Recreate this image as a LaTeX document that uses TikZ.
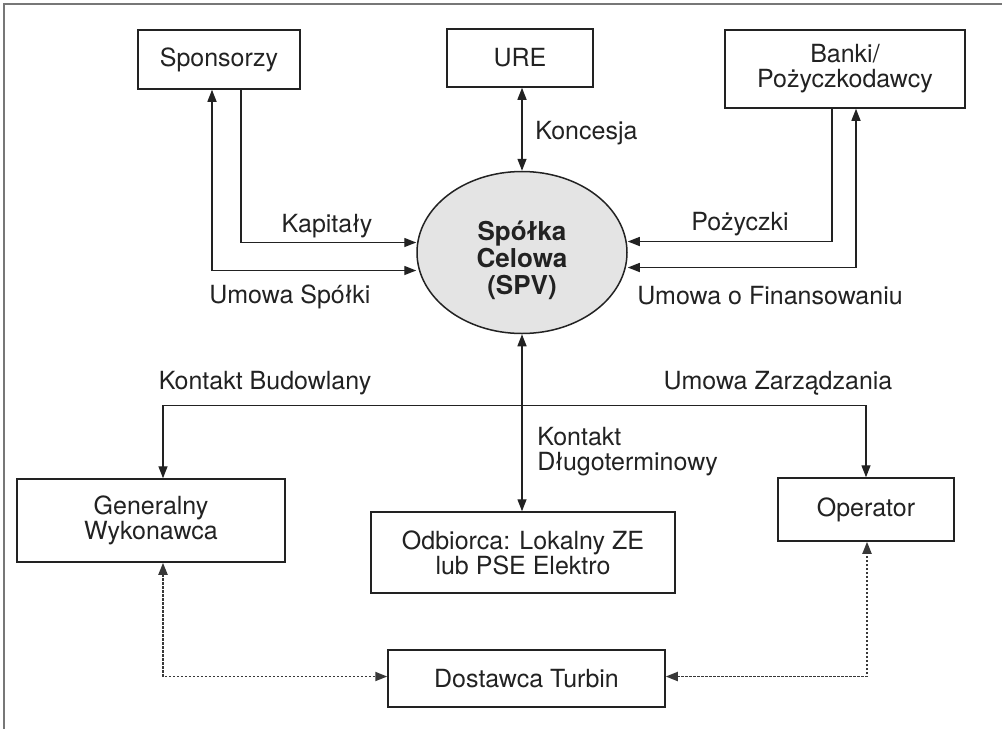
\documentclass[tikz,border=0pt]{standalone}
\usepackage{fontspec}
\setmainfont{TeX Gyre Heros}
\usetikzlibrary{arrows.meta,calc,shapes.geometric}

\definecolor{ink}{HTML}{222222}
\definecolor{framecol}{HTML}{777777}
\definecolor{spvfill}{HTML}{E4E4E4}

\begin{document}
\begin{tikzpicture}[x=0.5pt,y=-0.5pt,
  font=\fontsize{12.5}{12.6}\selectfont,
  >={Triangle[length=6pt,width=4.5pt]},
  box/.style={draw=ink, line width=0.75pt, fill=white, align=center, inner sep=0pt, text=ink},
  conn/.style={draw=ink, line width=0.7pt},
  dotconn/.style={draw=ink!90, line width=0.9pt, dash pattern=on 1.1pt off 0.9pt},
  lbl/.style={text=ink, inner sep=0pt}
]
\useasboundingbox (0,0) rectangle (1002,729);

% outer frame (top and left edges)
\draw[framecol, line width=1pt] (1002,4) -- (4,4) -- (4,729);

% parties
\node[box, minimum width=81pt, minimum height=29.5pt] (spons) at (219,59.5) {Sponsorzy};
\node[box, minimum width=73pt, minimum height=29pt] (ure) at (520,58) {URE};
\node[box, minimum width=120pt, minimum height=39pt] (banki) at (845,69) {Banki/\\Pożyczkodawcy};
\node[ellipse, draw=ink, line width=0.75pt, fill=spvfill, minimum width=105pt, minimum height=81pt, inner sep=0pt] (spv) at (522,252.5) {};
\node[lbl, align=center, font=\fontsize{13}{13.6}\selectfont\bfseries] (spvtxt) at ($(spv)+(0,8)$) {Spółka\\Celowa\\(SPV)};
\node[box, minimum width=134pt, minimum height=41.5pt] (gen) at (151,520.5) {Generalny\\Wykonawca};
\node[box, minimum width=152pt, minimum height=40.5pt] (odb) at (523,552.5) {Odbiorca: Lokalny ZE\\lub PSE Elektro};
\node[box, minimum width=88pt, minimum height=31.5pt] (oper) at (866,509.5) {Operator};
\node[box, minimum width=138.5pt, minimum height=28.5pt] (dost) at (526.5,678.5) {Dostawca Turbin};

% sponsors
\draw[conn,->] ($(spons.south)+(22,0)$) |- ($(spv.west)+(0,-10)$);
\draw[conn,<->] ($(spons.south)+(-7,0)$) |- ($(spv.west)+(0,18)$);
% regulator
\draw[conn,<->] (ure.south -| spv.north) -- (spv.north);
% lenders
\draw[conn,->] ($(banki.south)+(-13,0)$) |- ($(spv.east)+(0,-11)$);
\draw[conn,<->] ($(banki.south)+(11,0)$) |- ($(spv.east)+(0,15)$);
% offtaker
\draw[conn,<->] (spv.south) -- (odb.north -| spv.south);
% construction and management contracts
\coordinate (bus) at ($(spv.south)+(0,71)$);
\draw[conn,->] (bus) -| ($(gen.north)+(12,0)$);
\draw[conn,->] (bus) -| (oper.north);
% turbine supplier
\draw[dotconn,<->] ($(gen.south)+(12,0)$) |- ($(dost.west)+(0,-2)$);
\draw[dotconn,<->] ($(dost.east)+(0,-2)$) -| ($(oper.south)+(1,0)$);

% labels
\node[lbl, anchor=west] (lkon) at (535,133) {Koncesja};
\node[lbl] (lkap) at (327,226) {Kapitały};
\node[lbl] (lums) at (290,297) {Umowa Spółki};
\node[lbl] (lpoz) at (740,224) {Pożyczki};
\node[lbl] (lfin) at (770,296) {Umowa o Finansowaniu};
\node[lbl] (lbud) at (265,383) {Kontakt Budowlany};
\node[lbl] (lzar) at (778,383) {Umowa Zarządzania};
\node[lbl, anchor=west, align=left] (ldlu) at (537,452) {Kontakt\\Długoterminowy};
\end{tikzpicture}
\end{document}
